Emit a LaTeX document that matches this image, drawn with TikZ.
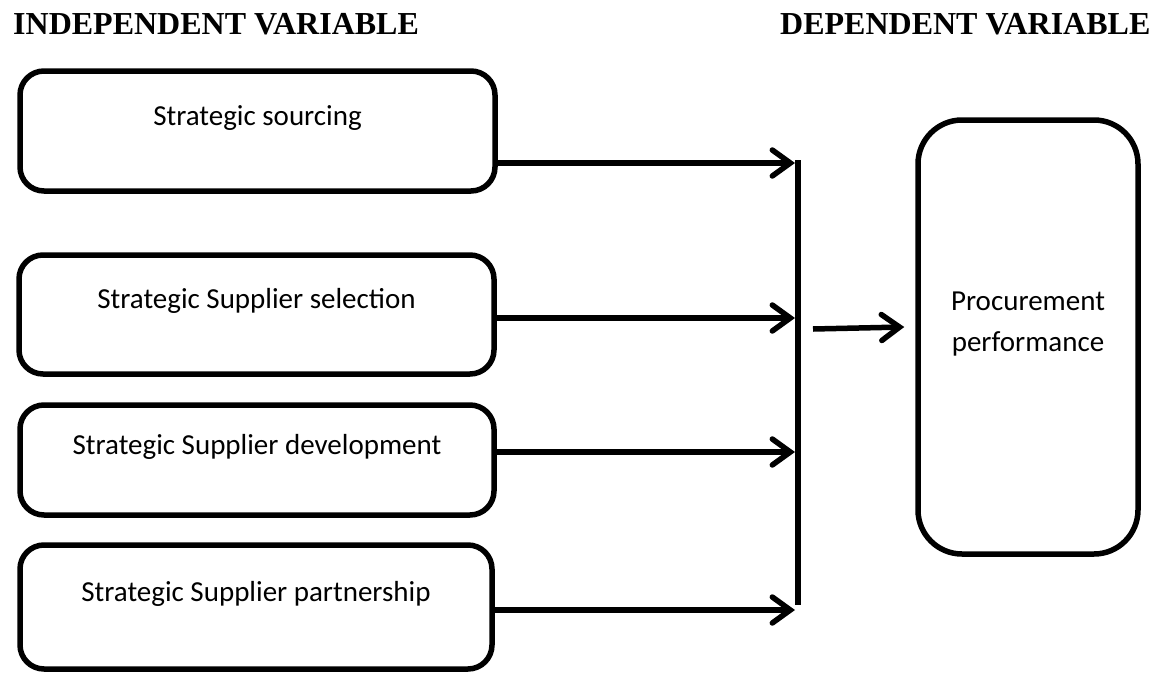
\documentclass[tikz,border=0pt]{standalone}
\usepackage{fontspec}
\setmainfont{Carlito}
\newfontfamily\headfont{Liberation Serif}
\usetikzlibrary{arrows.meta}

\begin{document}
\begin{tikzpicture}[x=1pt,y=-1pt,font=\fontsize{29}{41}\selectfont,
   v/.style={draw,line width=5.5pt,rounded corners=24pt,minimum width=475pt,
     inner sep=0pt,text height=20pt,text depth=32pt},
   hd/.style={anchor=base west,inner sep=0pt,
     font=\headfont\bfseries\fontsize{32}{36}\selectfont},
   arr/.style={line width=5.5pt,-{Straight Barb[length=18pt,width=26pt,line cap=round]}}]
  \useasboundingbox (0,0) rectangle (1157,675);
  \node[hd] (iv) at (13,34) {INDEPENDENT VARIABLE};
  \node[hd] (dv) at (780,34) {DEPENDENT VARIABLE};
  \node[v,minimum height=120pt] (src) at (257.5,131) {Strategic sourcing};
  \node[v,minimum height=119pt] (sel) at (256.5,314.5) {Strategic Supplier selection};
  \node[v,minimum height=110pt,minimum width=474pt] (dev) at (257,460) {Strategic Supplier development};
  \node[v,minimum height=124pt,minimum width=472pt] (prt) at (256,607) {Strategic Supplier partnership};
  \node[v,minimum width=220pt,minimum height=434pt,rounded corners=44pt,align=center,
    text height=60pt,text depth=32pt] (perf) at (1028,337) {Procurement\\performance};
  \coordinate (bartop) at (798,160);
  \coordinate (barbot) at (798,605);
  \draw[line width=6.5pt] (bartop) -- (barbot);
  \coordinate (j1) at (795,163);
  \coordinate (j2) at (795,318);
  \coordinate (j3) at (795,452);
  \coordinate (j4) at (795,610);
  \draw[arr] (src.east |- j1) -- (j1);
  \draw[arr] (sel.east |- j2) -- (j2);
  \draw[arr] (dev.east |- j3) -- (j3);
  \draw[arr] (prt.east |- j4) -- (j4);
  \coordinate (mid) at (813,329);
  \draw[arr] (mid) -- ([shift={(-11pt,10pt)}]perf.west);
\end{tikzpicture}
\end{document}
